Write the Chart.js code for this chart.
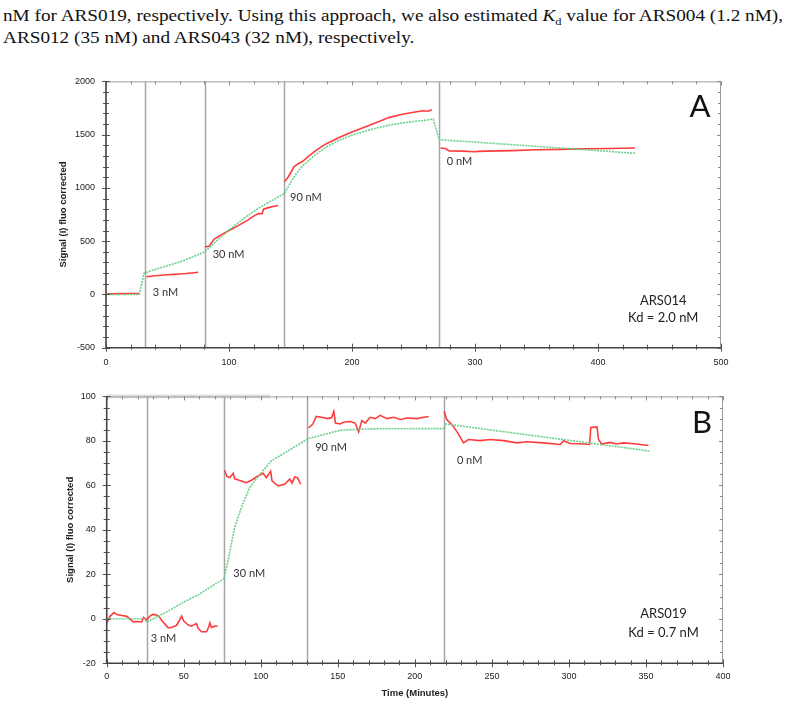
<!DOCTYPE html>
<html><head><meta charset="utf-8">
<script src="https://cdn.jsdelivr.net/npm/chart.js@4.4.1/dist/chart.umd.min.js"></script>
<style>
html,body{margin:0;padding:0;background:#fff;width:787px;height:708px;overflow:hidden;}
.t{position:absolute;left:3px;font-family:"Liberation Serif","Times New Roman",serif;font-size:17px;line-height:17px;white-space:nowrap;color:#111;transform-origin:0 0;}
.t sub{font-size:11px;line-height:0;}
#c1{position:absolute;left:40px;top:65px;}
#c2{position:absolute;left:40px;top:380px;}
</style></head>
<body>
<div class="t" id="l1" style="top:7px">nM for ARS019, respectively. Using this approach, we also estimated <i>K</i><sub>d</sub> value for ARS004 (1.2 nM),</div>
<div class="t" id="l2" style="top:29px">ARS012 (35 nM) and ARS043 (32 nM), respectively.</div>
<canvas id="c1" width="700" height="313"></canvas>
<canvas id="c2" width="700" height="328"></canvas>
<script>
// ---------- Panel A (ARS014) ----------
const aXTicks = [0, 100, 200, 300, 400, 500];
const aYTicks = [-500, 0, 500, 1000, 1500, 2000];
const aInjections = [31.5, 80.5, 145, 271];
const aObsX = [1,5,10,15,20,25,27, null,
  33,35,40,45,50,55,60,65,70,75, null,
  80.5,84,88,92,96,100,105,110,115,120,124,127,128,132,136,140, null,
  145,148,150,153,156,160,165,170,175,180,190,200,210,220,230,240,250,258,262,265, null,
  272,276,279,290,300,302,310,330,350,370,390,410,430];
const aObsY = [3,5,8,8,9,9,8, null,
  167,168,175,180,185,188,192,196,202,208, null,
  445,455,520,548,575,600,630,662,695,735,760,758,800,815,825,835, null,
  1060,1100,1140,1200,1225,1250,1300,1345,1385,1420,1475,1525,1570,1615,1660,1690,1710,1725,1720,1735, null,
  1375,1370,1347,1345,1340,1343,1345,1350,1358,1362,1368,1370,1375];
const aFitX = [0,27,29,31,40,50,60,70,80,85,90,100,110,120,130,140,145,150,155,160,170,180,190,200,210,220,230,240,250,260,266,271,300,350,400,430];
const aFitY = [0,0,100,200,235,270,305,350,398,450,505,605,695,780,850,915,948,1050,1140,1210,1310,1390,1450,1495,1530,1562,1588,1608,1623,1636,1646,1452,1430,1390,1350,1325];
const aLabels = ['3 nM','30 nM','90 nM','0 nM'];

// ---------- Panel B (ARS019) ----------
const bXTicks = [0, 50, 100, 150, 200, 250, 300, 350, 400];
const bYTicks = [-20, 0, 20, 40, 60, 80, 100];
const bInjections = [26, 76, 130, 219];
const bObsX = [0,2,4.7,7,10,13,15,17.3,20,22.7,24,26,28,30,32,34,36,38,40,43,45.3,47,48.6,50,51.8,53,55,57,58.3,59.4,61.5,64.8,66,67,68,70.2,72, null,
  76.5,78,80,82.1,83,85,87.4,90.6,93.9,98.2,101.5,103.6,106.4,107.3,111.2,115.5,118.8,120.3,122,123.8,125.9, null,
  131,133.8,136,139.2,143.5,146,147.4,148.5,151.5,153.7,158,161.3,163.5,165.6,167.8,171,174.3,177.5,181.9,186.2,190.5,194.9,201.4,205.7,209, null,
  219,220.7,224,227.2,231.6,234.8,242.4,248.9,257.6,266.2,272.7,283.5,294.4,296.5,300.8,309.5,313.4,314.2,318.2,319.2,321.3,326.7,331,335.4,344,351.6];
const bObsY = [-2,1,2.8,1.8,1.5,1.1,0,-1.4,-1.2,-1.4,0.6,-0.5,1.2,2,1.8,1,-1,-2.5,-4.1,-3.7,-2.9,-1,1.2,-1,-2.1,-2.8,-3.3,-2.5,-2.1,-4.3,-5.8,-5.8,-4,-1.8,-3.9,-3.3,-3.2, null,
  66.8,64,63.5,65.4,63,62.5,62,61.2,62.3,64.2,65.4,63.5,66.4,62,59.8,60.5,62.8,61,63.8,63.5,60.5, null,
  85.8,87.6,91,90.6,90,90.5,93.3,88,87.6,88.4,88.7,88,84,89.1,88,90.6,90,91.5,90,90.6,89.6,90.3,90,90.6,91, null,
  93.3,89.6,87.3,84.3,79.1,80.6,80.1,80.6,80.1,79.1,79.6,79.1,78.4,80.1,78.8,78.6,78.4,86,86.3,80.6,78.6,79.3,78.6,79.1,78.6,77.9];
const bFitX = [0,24,26,40,50,60,70,76,78.7,83,87.4,92.8,98.2,106.9,115.5,130.7,151.5,170,200,219,220,352.8];
const bFitY = [0,0,-1.5,3.5,7.5,11,15.5,18,26,41,50,59,64,71,74.6,81,84.8,85.4,85.5,85.5,87.6,75.4];
const bLabels = ['3 nM','30 nM','90 nM','0 nM'];

function pts(xs, ys){ return xs.map((x,i)=> x===null ? {x:NaN,y:null} : {x:x,y:ys[i]}); }

const framePlugin = {
  id:'frame',
  beforeDatasetsDraw(chart, args, o){
    const {ctx, chartArea:a, scales:{x}} = chart;
    ctx.save();
    if (o.band){
      ctx.fillStyle='#e2e2e2';
      const x0=x.getPixelForValue(o.band[0]), x1=x.getPixelForValue(o.band[1]);
      ctx.fillRect(x0, a.top-2, x1-x0, 4);
    }
    ctx.strokeStyle='#a6a6a6'; ctx.lineWidth=1.5;
    o.events.forEach(v=>{ const px=Math.round(x.getPixelForValue(v))+0.5; ctx.beginPath(); ctx.moveTo(px,a.top); ctx.lineTo(px,a.bottom); ctx.stroke(); });
    ctx.restore();
  },
  afterDraw(chart, args, o){
    const {ctx, chartArea:a, scales:{x,y}} = chart;
    ctx.save();
    const isMaj=(v,m)=>Math.abs(v/m-Math.round(v/m))<1e-6;
    ctx.strokeStyle='#9c9c9c'; ctx.lineWidth=1;
    ctx.beginPath(); ctx.moveTo(a.left,a.top+0.5); ctx.lineTo(a.right-0.5,a.top+0.5); ctx.lineTo(a.right-0.5,a.bottom); ctx.stroke();
    ctx.lineWidth=1;
    for(let v=x.min; v<=x.max+1e-9; v+=o.xMinor){
      const p=Math.round(x.getPixelForValue(v))+0.5, M=isMaj(v,o.xMajor);
      ctx.strokeStyle='#555';
      ctx.beginPath(); ctx.moveTo(p,a.bottom-(M?4:3)); ctx.lineTo(p,a.bottom+(M?4:2)); ctx.stroke();
      ctx.strokeStyle='#8a8a8a';
      ctx.beginPath(); ctx.moveTo(p,a.top); ctx.lineTo(p,a.top+(M?4:3)); ctx.stroke();
    }
    for(let v=y.min; v<=y.max+1e-9; v+=o.yMinor){
      const p=Math.round(y.getPixelForValue(v))+0.5, M=isMaj(v,o.yMajor);
      ctx.strokeStyle='#555';
      ctx.beginPath(); ctx.moveTo(a.left-(M?4:3),p); ctx.lineTo(a.left+(M?4:3),p); ctx.stroke();
      ctx.strokeStyle='#8a8a8a';
      ctx.beginPath(); ctx.moveTo(a.right,p); ctx.lineTo(a.right-(M?4:3),p); ctx.stroke();
    }
    ctx.strokeStyle='#444'; ctx.lineWidth=1.6;
    ctx.beginPath(); ctx.moveTo(a.left,a.top); ctx.lineTo(a.left,a.bottom); ctx.lineTo(a.right,a.bottom); ctx.stroke();
    o.notes.forEach(n=>{
      ctx.font=n.font; ctx.fillStyle=n.color||'#333'; ctx.textAlign=n.align||'left'; ctx.textBaseline='middle';
      ctx.fillText(n.text, x.getPixelForValue(n.x), y.getPixelForValue(n.y));
    });
    ctx.restore();
  }
};

function makeChart(id, c){
  const tickFont={family:'"Liberation Sans", Arial, sans-serif', size:9};
  const titleFont={family:'"Liberation Sans", Arial, sans-serif', size:9.5, weight:'bold'};
  return new Chart(document.getElementById(id), {
    type:'scatter',
    data:{datasets:[
      {data:pts(c.fitX,c.fitY), borderColor:'rgba(100,205,135,0.95)', borderWidth:1.6, borderDash:[2,1], showLine:true, pointRadius:0, spanGaps:false, order:1},
      {data:pts(c.obsX,c.obsY), borderColor:'#ff3c3c', borderWidth:1.6, showLine:true, pointRadius:0, spanGaps:false, order:2}
    ]},
    options:{
      responsive:false, animation:false, events:[],
      layout:{padding:{top:c.padTop,right:c.padRight,left:0,bottom:0}},
      plugins:{legend:{display:false}, tooltip:{enabled:false},
        frame:{events:c.events, xMinor:c.xMinor, xMajor:c.xTicks[1]-c.xTicks[0], yMinor:c.yMinor, yMajor:c.yTicks[1]-c.yTicks[0], notes:c.notes, band:c.band}},
      scales:{
        x:{type:'linear', min:c.xTicks[0], max:c.xTicks[c.xTicks.length-1],
          afterBuildTicks:s=>{s.ticks=c.xTicks.map(v=>({value:v}));},
          ticks:{font:tickFont, color:'#222', padding:c.xPad, maxRotation:0, autoSkip:false, callback:v=>String(v)},
          grid:{display:false, drawTicks:false}, border:{display:false},
          title:{display:!!c.xTitle, text:c.xTitle||'', font:titleFont, color:'#222', padding:{top:0,bottom:c.xTitlePad}},
          afterFit:s=>{s.height=c.xH;}},
        y:{type:'linear', min:c.yTicks[0], max:c.yTicks[c.yTicks.length-1],
          afterBuildTicks:s=>{s.ticks=c.yTicks.map(v=>({value:v}));},
          ticks:{font:tickFont, color:'#222', padding:11, autoSkip:false, callback:v=>String(v)},
          grid:{display:false, drawTicks:false}, border:{display:false},
          title:{display:true, text:'Signal (I) fluo corrected', font:titleFont, color:'#222', padding:{top:c.yTitlePad,bottom:0}},
          afterFit:s=>{s.width=c.yW;}}
      }
    },
    plugins:[framePlugin]
  });
}

const noteFont='11px Lato, "Open Sans", sans-serif';
const boxFont='13px Lato, "Open Sans", sans-serif';
const bigFont='31px Lato, "Open Sans", sans-serif';

makeChart('c1', {
  xTicks:aXTicks, yTicks:aYTicks, obsX:aObsX, obsY:aObsY, fitX:aFitX, fitY:aFitY,
  events:aInjections, xMinor:20, yMinor:100,
  padTop:14.5, padRight:19, yW:66, xH:30.3, xPad:9, yTitlePad:17.7,
  notes:[
    {text:aLabels[0], x:38, y:20, font:noteFont},
    {text:aLabels[1], x:86.7, y:372, font:noteFont},
    {text:aLabels[2], x:149.6, y:906, font:noteFont},
    {text:aLabels[3], x:277, y:1246, font:noteFont},
    {text:'A', x:483, y:1758, font:bigFont, align:'center', color:'#111'},
    {text:'ARS014', x:453, y:-56, font:boxFont, align:'center', color:'#222'},
    {text:'Kd = 2.0 nM', x:453, y:-218, font:boxFont, align:'center', color:'#222'}
  ]
});

makeChart('c2', {
  xTicks:bXTicks, yTicks:bYTicks, obsX:bObsX, obsY:bObsY, fitX:bFitX, fitY:bFitY,
  events:bInjections, xMinor:10, yMinor:5,
  padTop:15, padRight:17, yW:66.7, xH:44.7, xPad:8, yTitlePad:24.2,
  xTitle:'Time (Minutes)', xTitlePad:9, band:[0,106],
  notes:[
    {text:bLabels[0], x:28.6, y:-8.8, font:noteFont},
    {text:bLabels[1], x:82.2, y:20.5, font:noteFont},
    {text:bLabels[2], x:135.3, y:77.2, font:noteFont},
    {text:bLabels[3], x:227.3, y:71.2, font:noteFont},
    {text:'B', x:386.4, y:88, font:bigFont, align:'center', color:'#111'},
    {text:'ARS019', x:361.4, y:2.4, font:boxFont, align:'center', color:'#222'},
    {text:'Kd = 0.7 nM', x:361.4, y:-6.1, font:boxFont, align:'center', color:'#222'}
  ]
});

(function(){
  const l1=document.getElementById('l1'), l2=document.getElementById('l2');
  const w=l1.getBoundingClientRect().width;
  const s=780/w;
  l1.style.transform='scaleX('+s+')';
  l2.style.transform='scaleX('+s+')';
})();
</script>
</body></html>
